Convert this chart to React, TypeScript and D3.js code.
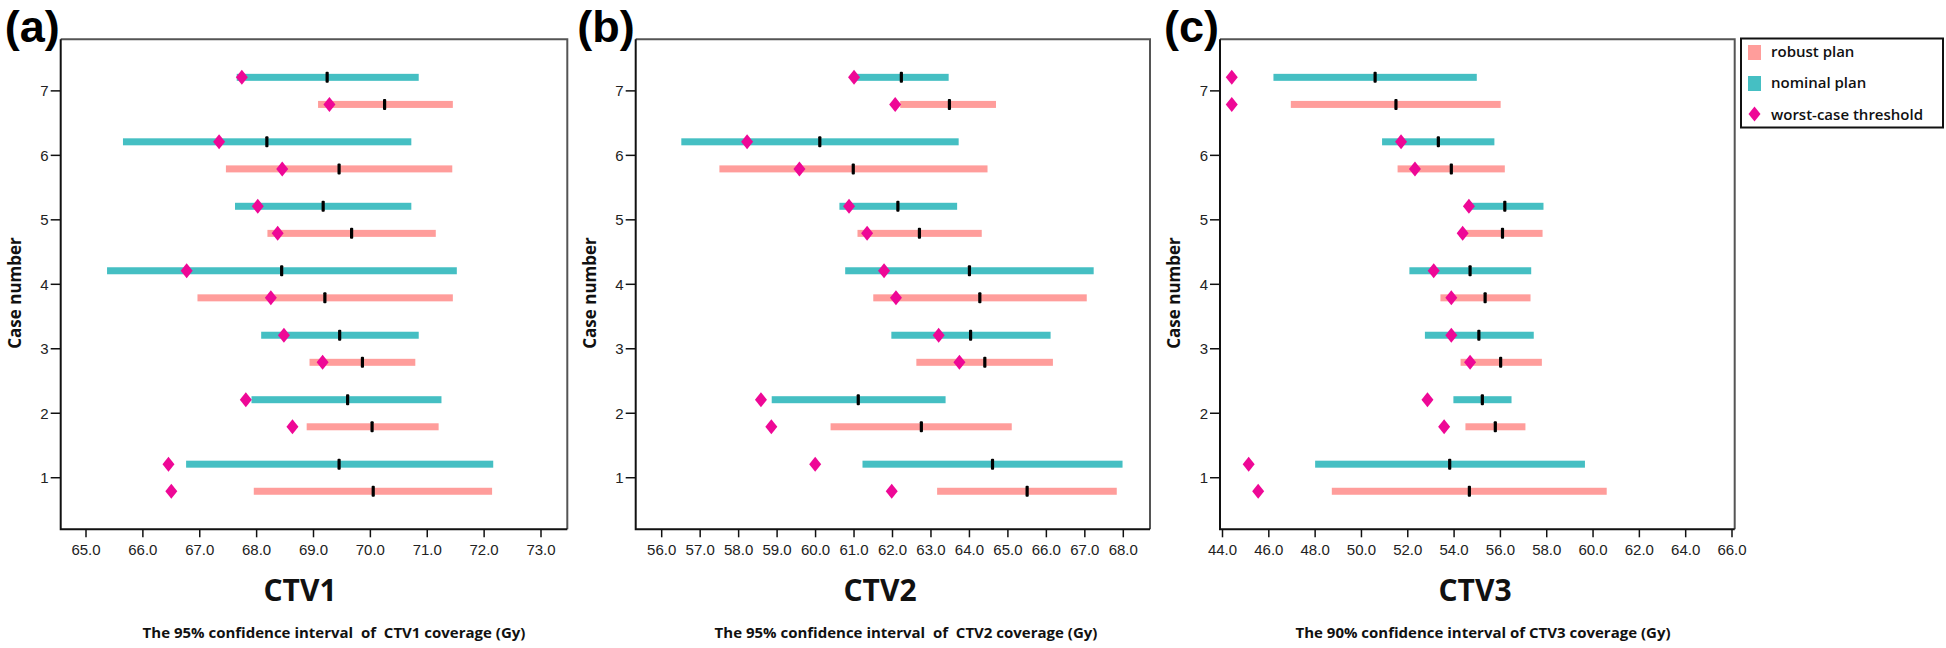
import { useEffect, useRef } from "react"
import * as d3 from "d3"

// case numbers on the y axis
const cases = [1, 2, 3, 4, 5, 6, 7]

// [low, median, high] of the interval, per case 1..7
const ctv1Nominal = [
  [66.76, 69.45, 72.16], [67.91, 69.6, 71.25], [68.08, 69.46, 70.85], [65.37, 68.44, 71.52],
  [67.62, 69.17, 70.72], [65.65, 68.18, 70.72], [67.65, 69.24, 70.85],
]
const ctv1Robust = [
  [67.95, 70.05, 72.14], [68.88, 70.03, 71.2], [68.93, 69.86, 70.79], [66.96, 69.2, 71.45],
  [68.19, 69.67, 71.15], [67.46, 69.45, 71.44], [69.08, 70.25, 71.45],
]
const ctv1NominalWorst = [66.45, 67.81, 68.48, 66.77, 68.02, 67.34, 67.74]
const ctv1RobustWorst = [66.5, 68.63, 69.16, 68.25, 68.37, 68.45, 69.28]

const ctv2Nominal = [
  [61.22, 64.6, 67.98], [58.86, 61.11, 63.38], [61.97, 64.03, 66.11], [60.77, 64.0, 67.23],
  [60.62, 62.14, 63.68], [56.51, 60.11, 63.72], [61.06, 62.23, 63.46],
]
const ctv2Robust = [
  [63.16, 65.5, 67.83], [60.39, 62.75, 65.1], [62.62, 64.4, 66.17], [61.5, 64.27, 67.05],
  [61.09, 62.7, 64.32], [57.5, 60.98, 64.47], [62.2, 63.48, 64.69],
]
const ctv2NominalWorst = [59.99, 58.58, 63.2, 61.78, 60.87, 58.22, 61.0]
const ctv2RobustWorst = [61.98, 58.85, 63.74, 62.09, 61.34, 59.58, 62.07]

const ctv3Nominal = [
  [48.0, 53.81, 59.65], [53.97, 55.22, 56.48], [52.74, 55.07, 57.44], [52.07, 54.69, 57.33],
  [54.69, 56.19, 57.86], [50.89, 53.32, 55.74], [46.2, 50.59, 54.98],
]
const ctv3Robust = [
  [48.72, 54.66, 60.59], [54.49, 55.78, 57.08], [54.28, 56.01, 57.79], [53.41, 55.34, 57.3],
  [54.24, 56.09, 57.82], [51.56, 53.88, 56.19], [46.95, 51.49, 56.01],
]
const ctv3NominalWorst = [45.13, 52.85, 53.88, 53.12, 54.64, 51.71, 44.4]
const ctv3RobustWorst = [45.54, 53.57, 54.69, 53.88, 54.37, 52.31, 44.4]

const ctv1Ticks = d3.range(65, 73.01, 1)
const ctv2Ticks = d3.range(56, 68.01, 1)
const ctv3Ticks = d3.range(44, 66.01, 2)

const legendLabels = ["robust plan", "nominal plan", "worst-case threshold"]

const NOMINAL = "#45bfc3"
const ROBUST = "#ff9d9b"
const WORST = "#ee0896"

const panels = [
  {
    tag: "(a)", title: "CTV1", subtitle: "The 95% confidence interval  of  CTV1 coverage (Gy)",
    nominal: ctv1Nominal, robust: ctv1Robust, nomWorst: ctv1NominalWorst, robWorst: ctv1RobustWorst,
    ticks: ctv1Ticks, domain: [65, 73], range: [86, 541], left: 60.7, right: 567.3, titleX: 300, subX: 334,
  },
  {
    tag: "(b)", title: "CTV2", subtitle: "The 95% confidence interval  of  CTV2 coverage (Gy)",
    nominal: ctv2Nominal, robust: ctv2Robust, nomWorst: ctv2NominalWorst, robWorst: ctv2RobustWorst,
    ticks: ctv2Ticks, domain: [56, 68], range: [661.7, 1123.3], left: 635.7, right: 1150, titleX: 880, subX: 906,
  },
  {
    tag: "(c)", title: "CTV3", subtitle: "The 90% confidence interval of CTV3 coverage (Gy)",
    nominal: ctv3Nominal, robust: ctv3Robust, nomWorst: ctv3NominalWorst, robWorst: ctv3RobustWorst,
    ticks: ctv3Ticks, domain: [44, 66], range: [1222.5, 1732], left: 1220, right: 1734.7, titleX: 1475, subX: 1483,
  },
]

const W = 1946
const H = 648
const TOP = 39.3
const BOTTOM = 529.3
const SANS = "'Liberation Sans', Arial, sans-serif"
const BOLD = "'Open Sans', sans-serif"

const App = () => {
  const svgRef = useRef<SVGSVGElement>(null)

  useEffect(() => {
    if (!svgRef.current) return
    const svg = d3.select(svgRef.current)
    svg.selectAll("*").remove()

    const y = d3.scaleLinear().domain([0.2, 7.8]).range([BOTTOM, TOP])
    const diamond = (cx: number, cy: number) =>
      `M${cx},${cy - 7.5}L${cx + 6},${cy}L${cx},${cy + 7.5}L${cx - 6},${cy}Z`

    panels.forEach((p) => {
      const x = d3.scaleLinear().domain(p.domain).range(p.range)
      const g = svg.append("g")

      // frame: top/right in grey, axes in black
      g.append("path")
        .attr("d", `M${p.left},${TOP}H${p.right}V${BOTTOM}`)
        .attr("fill", "none").attr("stroke", "#555").attr("stroke-width", 2)
      g.append("path")
        .attr("d", `M${p.left},${TOP}V${BOTTOM}H${p.right}`)
        .attr("fill", "none").attr("stroke", "#111").attr("stroke-width", 2)

      // x ticks
      p.ticks.forEach((t) => {
        g.append("line")
          .attr("x1", x(t)).attr("x2", x(t)).attr("y1", BOTTOM).attr("y2", BOTTOM + 8)
          .attr("stroke", "#111").attr("stroke-width", 1.5)
        g.append("text")
          .attr("x", x(t)).attr("y", 555)
          .attr("text-anchor", "middle")
          .style("font", `15px ${SANS}`).attr("fill", "#222")
          .text(d3.format(".1f")(t))
      })

      // y ticks
      cases.forEach((c) => {
        g.append("line")
          .attr("x1", p.left - 10).attr("x2", p.left).attr("y1", y(c)).attr("y2", y(c))
          .attr("stroke", "#111").attr("stroke-width", 1.5)
        g.append("text")
          .attr("x", p.left - 12).attr("y", y(c) + 5.5)
          .attr("text-anchor", "end")
          .style("font", `15px ${SANS}`).attr("fill", "#222")
          .text(c)
      })

      g.append("text")
        .attr("transform", `translate(${p.left - 40},${293}) rotate(-90)`)
        .attr("text-anchor", "middle")
        .style("font", `bold 17px ${BOLD}`).attr("fill", "#111")
        .text("Case number")

      g.append("text")
        .attr("x", p.left - 1).attr("y", 42)
        .attr("text-anchor", "end")
        .style("font", `bold 45px ${SANS}`).attr("fill", "#000")
        .text(p.tag)

      g.append("text")
        .attr("x", p.titleX).attr("y", 601)
        .attr("text-anchor", "middle")
        .style("font", `bold 30px ${BOLD}`).attr("fill", "#111")
        .text(p.title)

      g.append("text")
        .attr("x", p.subX).attr("y", 638)
        .attr("text-anchor", "middle")
        .style("font", `bold 15px ${BOLD}`).style("white-space", "pre").attr("fill", "#111")
        .text(p.subtitle)

      const series = [
        { rows: p.nominal, worst: p.nomWorst, off: 0.21, color: NOMINAL },
        { rows: p.robust, worst: p.robWorst, off: -0.21, color: ROBUST },
      ]

      series.forEach((s) => {
        g.selectAll(null)
          .data(s.rows)
          .join("rect")
          .attr("x", (d) => x(d[0]))
          .attr("width", (d) => x(d[2]) - x(d[0]))
          .attr("y", (_, i) => y(cases[i] + s.off) - 3.5)
          .attr("height", 7)
          .attr("fill", s.color)
      })
      series.forEach((s) => {
        g.selectAll(null)
          .data(s.rows)
          .join("rect")
          .attr("x", (d) => x(d[1]) - 1.6)
          .attr("width", 3.2)
          .attr("y", (_, i) => y(cases[i] + s.off) - 5.5)
          .attr("height", 11)
          .attr("rx", 1)
          .attr("fill", "#000")
      })
      series.forEach((s) => {
        g.selectAll(null)
          .data(s.worst)
          .join("path")
          .attr("d", (d, i) => diamond(x(d), y(cases[i] + s.off)))
          .attr("fill", WORST)
      })
    })

    // legend
    const lg = svg.append("g")
    lg.append("rect")
      .attr("x", 1741).attr("y", 38.5).attr("width", 202).attr("height", 89)
      .attr("fill", "#fff").attr("stroke", "#111").attr("stroke-width", 2)
    lg.append("rect").attr("x", 1748).attr("y", 45).attr("width", 13).attr("height", 15).attr("fill", ROBUST)
    lg.append("rect").attr("x", 1748).attr("y", 76).attr("width", 13).attr("height", 15).attr("fill", NOMINAL)
    lg.append("path").attr("d", diamond(1754.5, 114)).attr("fill", WORST)
    legendLabels.forEach((t, i) => {
      lg.append("text")
        .attr("x", 1771).attr("y", 57 + i * 31.3)
        .style("font", `600 15px ${BOLD}`).attr("fill", "#111")
        .text(t)
    })
  }, [])

  return (
    <svg
      ref={svgRef}
      width={W}
      height={H}
      style={{ position: "absolute", left: 0, top: 0, background: "#fff" }}
    />
  )
}

export default App
